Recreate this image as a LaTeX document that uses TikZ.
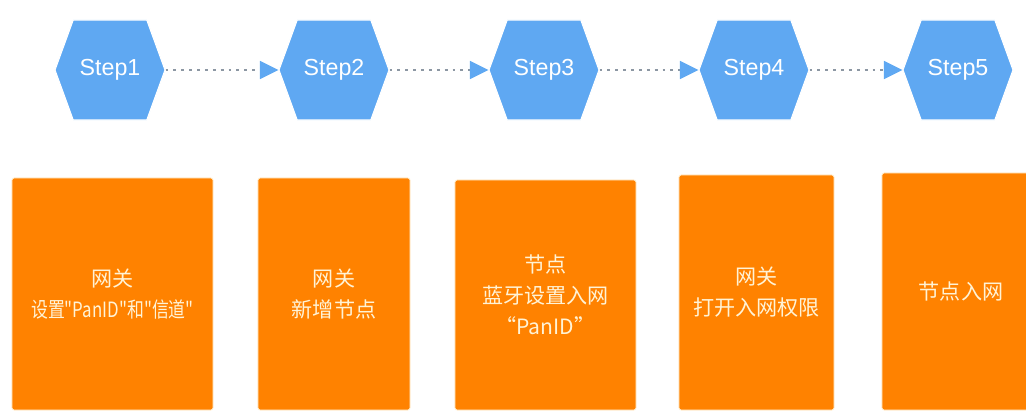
\documentclass[tikz,border=0pt]{standalone}
\usepackage{fontspec}
\setmainfont{Liberation Sans}
\newfontfamily\cjk{Noto Sans CJK SC}
\usetikzlibrary{shapes.symbols,arrows.meta}

\definecolor{stepblue}{HTML}{5FA8F2}
\definecolor{boxorange}{HTML}{FF8200}
\definecolor{dotgray}{HTML}{8C97A3}
\definecolor{boxtext}{HTML}{FFF3D6}

\tikzset{
  stepnode/.style={shape=signal, signal to=east and west, signal pointer angle=140,
    fill=stepblue, draw=white, line width=0.8pt, minimum height=2.5cm, minimum width=2.75cm,
    inner sep=0pt, text=white, font=\fontsize{16.5}{18}\selectfont},
  taskbox/.style={rectangle, rounded corners=1.5pt, fill=boxorange, draw=boxtext,
    line width=0.6pt, text=boxtext, align=center, inner sep=0pt,
    font=\cjk\fontsize{15}{22}\selectfont},
  dotline/.style={dotgray, line width=2pt, dash pattern=on 2pt off 3.6pt,
    -{Triangle[length=4.6mm, width=4.4mm, color=stepblue]}}
}

\begin{document}
\begin{tikzpicture}[x=0.025cm, y=-0.025cm]
            \clip (0,0) rectangle (1026,412);
            \fill[white] (0,0) rectangle (1026,412);

            % Draw the steps
            \node[stepnode] (s1) at (110, 70) {Step1};
            \node[stepnode] (s2) at (334, 70) {Step2};
            \node[stepnode] (s3) at (544, 70) {Step3};
            \node[stepnode] (s4) at (754, 70) {Step4};
            \node[stepnode] (s5) at (958, 70) {Step5};

            % Draw the dotted arrows between the steps
            \draw[dotline] (s1.east) -- (s2.west);
            \draw[dotline] (s2.east) -- (s3.west);
            \draw[dotline] (s3.east) -- (s4.west);
            \draw[dotline] (s4.east) -- (s5.west);

            % Draw the boxes below
            \node[taskbox, minimum width=5.025cm, minimum height=5.8cm] (b1) at (112.5, 294)
                {网关\\\scalebox{0.8}[1]{设置"PanID"和"信道"}};
            \node[taskbox, minimum width=3.8cm, minimum height=5.8cm] (b2) at (334, 294)
                {网关\\新增节点};
            \node[taskbox, minimum width=4.525cm, minimum height=5.75cm] (b3) at (545.5, 295)
                {节点\\蓝牙设置入网\\“PanID”};
            \node[taskbox, minimum width=3.875cm, minimum height=5.875cm] (b4) at (756.5, 292.5)
                {网关\\打开入网权限};
            \node[taskbox, minimum width=3.95cm, minimum height=5.925cm] (b5) at (961, 291.5)
                {节点入网};

\end{tikzpicture}
\end{document}
